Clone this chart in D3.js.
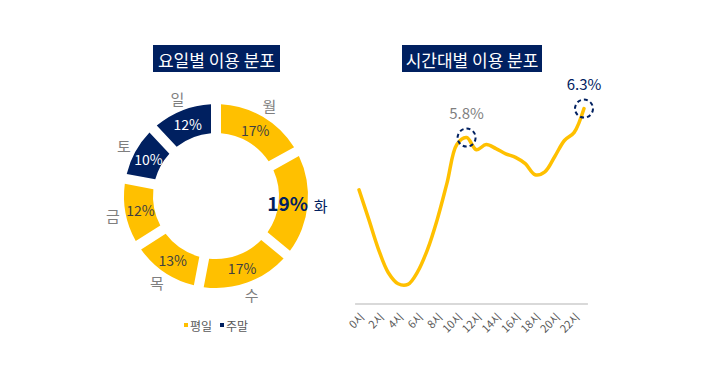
<!DOCTYPE html>
<meta charset="utf-8">
<html>
<head>
<script src="https://d3js.org/d3.v7.min.js"></script>
<style>
  body { margin: 0; background: #fff; }
  text { font-family: "Noto Sans CJK KR", "Noto Sans", sans-serif; }
</style>
</head>
<body>
<script>
// 요일별 이용 분포
const days = ["월", "화", "수", "목", "금", "토", "일"];
const dayShares = [17, 19, 17, 13, 12, 10, 12];
const dayGroup = ["평일", "평일", "평일", "평일", "평일", "주말", "주말"];
const groups = ["평일", "주말"];

// 시간대별 이용 분포 (%)
const hours = [0, 1, 2, 3, 4, 5, 6, 7, 8, 9, 10, 11, 12, 13, 14, 15, 16, 17, 18, 19, 20, 21, 22, 23];
const hourShares = [4.90, 4.39, 3.87, 3.47, 3.28, 3.27, 3.49, 3.87, 4.39, 5.02, 5.68, 5.80,
                    5.59, 5.68, 5.61, 5.52, 5.46, 5.35, 5.16, 5.21, 5.47, 5.75, 5.89, 6.30];
const hourTicks = [0, 2, 4, 6, 8, 10, 12, 14, 16, 18, 20, 22];
const highlights = [11, 23];

const yellow = "#FFC000", navy = "#002060";

const svg = d3.select("body").append("svg")
  .attr("width", 718).attr("height", 389);

function titleBox(cx, w, label) {
  const g = svg.append("g");
  g.append("rect").attr("x", cx - w / 2).attr("y", 45).attr("width", w).attr("height", 27)
    .attr("fill", navy);
  g.append("text").attr("x", cx).attr("y", 59).attr("text-anchor", "middle")
    .attr("dominant-baseline", "central").attr("fill", "#fff")
    .style("font-size", "17px").text(label);
}
titleBox(216.5, 127, "요일별 이용 분포");
titleBox(472, 140, "시간대별 이용 분포");

// ---- donut ----
const color = d3.scaleOrdinal().domain(groups).range([yellow, navy]);
const pie = d3.pie().sort(null).value(d => d.v);
const slices = pie(days.map((d, i) => ({ day: d, v: dayShares[i], g: dayGroup[i] })));
const arc = d3.arc().innerRadius(63).outerRadius(92).padAngle(0.1).padRadius(100);
const labelArc = d3.arc().innerRadius(105).outerRadius(105);
const midArc = d3.arc().innerRadius(77).outerRadius(77);
const maxShare = d3.max(dayShares);
const bigArc = d3.arc().innerRadius(72).outerRadius(72);

const donut = svg.append("g").attr("transform", "translate(216,196)");
donut.selectAll("path").data(slices).join("path")
  .attr("d", arc).attr("fill", d => color(d.data.g));

donut.selectAll("text.pct").data(slices).join("text")
  .attr("class", "pct")
  .attr("transform", d => `translate(${(d.data.v === maxShare ? bigArc : midArc).centroid(d)})`)
  .attr("text-anchor", "middle").attr("dominant-baseline", "central")
  .attr("fill", d => d.data.v === maxShare ? navy : (d.data.g === "주말" ? "#fff" : "#404040"))
  .style("font-size", d => d.data.v === maxShare ? "19px" : "14px")
  .style("font-weight", d => d.data.v === maxShare ? "600" : "normal")
  .text(d => d.data.v + "%");

donut.selectAll("text.day").data(slices).join("text")
  .attr("class", "day")
  .attr("transform", d => `translate(${labelArc.centroid(d)})`)
  .attr("text-anchor", "middle").attr("dominant-baseline", "central")
  .attr("fill", d => d.data.v === maxShare ? navy : "#7f7f7f")
  .style("font-size", "15px")
  .text(d => d.data.day);

// legend
const legend = svg.append("g").attr("transform", "translate(186,325)");
groups.forEach((g, i) => {
  const lg = legend.append("g").attr("transform", `translate(${i * 36},0)`);
  lg.append("rect").attr("x", -2).attr("y", -2).attr("width", 4).attr("height", 4).attr("fill", color(g));
  lg.append("text").attr("x", 4).attr("y", 0).attr("dominant-baseline", "central")
    .attr("fill", "#595959").style("font-size", "12px").text(g);
});

// ---- line ----
const x = d3.scaleLinear().domain([0, 23]).range([359, 584]);
const y = d3.scaleLinear().domain([3, 6.5]).range([300, 97]);

svg.append("line").attr("x1", x(-0.4)).attr("x2", x(23.4))
  .attr("y1", 304).attr("y2", 304).attr("stroke", "#d9d9d9").attr("stroke-width", 2);

const axis = svg.append("g").attr("transform", "translate(0,304)")
  .call(d3.axisBottom(x).tickValues(hourTicks).tickSize(0).tickFormat(d => d + "시"));
axis.select(".domain").remove();
axis.selectAll("text")
  .attr("transform", "translate(3,11) rotate(-45)")
  .attr("text-anchor", "end").attr("dy", "0.35em").attr("y", 0).attr("x", 0)
  .attr("fill", "#595959").style("font-size", "11px")
  .style("font-family", "\"Noto Sans CJK KR\", sans-serif");

const line = d3.line().x((d, i) => x(hours[i])).y(d => y(d)).curve(d3.curveCatmullRom.alpha(0.5));
svg.append("path").datum(hourShares).attr("d", line)
  .attr("fill", "none").attr("stroke", yellow).attr("stroke-width", 3.5)
  .attr("stroke-linecap", "round");

highlights.forEach(h => {
  const i = hours.indexOf(h);
  svg.append("circle").attr("cx", x(h)).attr("cy", y(hourShares[i])).attr("r", 9)
    .attr("fill", "none").attr("stroke", navy).attr("stroke-width", 2)
    .attr("stroke-dasharray", "4,3");
  svg.append("text").attr("x", x(h)).attr("y", y(hourShares[i]) - 19)
    .attr("text-anchor", "middle")
    .attr("fill", h === 23 ? navy : "#7f7f7f")
    .style("font-size", "15px")
    .text(hourShares[i].toFixed(1) + "%");
});
</script>
</body>
</html>
